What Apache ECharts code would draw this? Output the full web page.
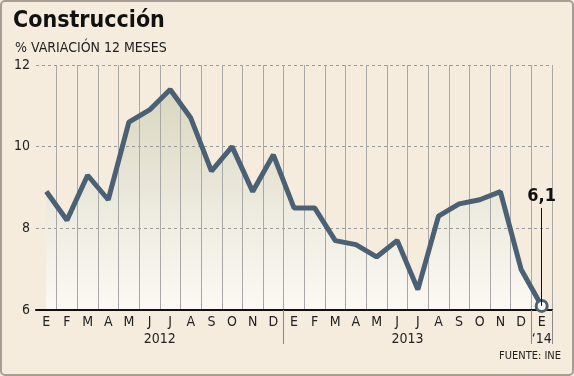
<!DOCTYPE html>
<html><head><meta charset="utf-8">
<script src="https://cdn.jsdelivr.net/npm/echarts@6/dist/echarts.min.js"></script>
<style>
html,body{margin:0;padding:0;background:#f6ecdd}
#c{width:574px;height:376px;position:absolute;left:0;top:0}
#b{position:absolute;left:0;top:0;width:574px;height:376px;box-sizing:border-box;border:2px solid #a89d94;border-radius:5px;pointer-events:none}
</style></head><body><div id="c"></div><div id="b"></div>
<script>
const months = ['E','F','M','A','M','J','J','A','S','O','N','D'];
const years = ['2012','2013','\u201814'];
const values2012 = [8.9,8.2,9.3,8.7,10.6,10.9,11.4,10.7,9.4,10.0,8.9,9.8];
const values2013 = [8.5,8.5,7.7,7.6,7.3,7.7,6.5,8.3,8.6,8.7,8.9,7.0];
const values2014 = [6.1];
const yMin = 6, yMax = 12, yStep = 2;
const calloutText = '6,1';
const calloutTop = 8.5;

const groups = [
  {year: years[0], months: months, values: values2012},
  {year: years[1], months: months, values: values2013},
  {year: years[2], months: months.slice(0,1), values: values2014}
];
const categories = [], values = [], yearPos = {};
groups.forEach(g => {
  const start = categories.length;
  g.months.forEach((m, i) => { categories.push(m + '|' + g.year); values.push(g.values[i]); });
  yearPos[String(start + (g.months.length - 1) / 2)] = g.year;
});
const lastIdx = values.length - 1;
const groupStarts = [];
{ let s = 0; groups.forEach((g, k) => { if (k > 0) groupStarts.push(s); s += g.months.length; }); }

const F = "'DejaVu Sans Condensed','DejaVu Sans',sans-serif";
const lineColor = '#4a6074';

const chart = echarts.init(document.getElementById('c'), null, {renderer: 'canvas'});
chart.setOption({
  backgroundColor: '#f6ecdd',
  animation: false,
  title: [
    {text: 'Construcción', left: 8, top: 5, textStyle: {fontFamily: F, fontWeight: 'bold', fontSize: 23, color: '#111'}},
    {text: '% VARIACIÓN 12 MESES', left: 10, top: 36, textStyle: {fontFamily: F, fontWeight: 'normal', fontSize: 14, color: '#222'}},
    {text: 'FUENTE: INE', right: 8, top: 346, textStyle: {fontFamily: F, fontWeight: 'normal', fontSize: 11, color: '#222'}}
  ],
  grid: {left: 36, right: 22, top: 65, bottom: 66},
  xAxis: [{
    type: 'category', data: categories, boundaryGap: true, z: 2,
    axisLine: {show: true, lineStyle: {color: '#111', width: 2}},
    axisTick: {show: true, length: 34, interval: (i) => groupStarts.includes(i), lineStyle: {color: '#888', width: 1}},
    axisLabel: {interval: 0, margin: 5, fontFamily: F, fontSize: 14, color: '#222', formatter: v => v.split('|')[0]},
    splitLine: {show: true, interval: (i) => i !== 0, lineStyle: {color: '#a8a8a8', width: 1}}
  }, {
    type: 'value', position: 'bottom', offset: 17, min: -0.5, max: values.length - 0.5, interval: 0.5,
    axisLine: {show: false}, axisTick: {show: false}, splitLine: {show: false},
    axisLabel: {margin: 5, fontFamily: F, fontSize: 14, color: '#222', showMinLabel: true, showMaxLabel: true,
      formatter: v => yearPos[String(v)] || ''}
  }],
  yAxis: {
    type: 'value', min: yMin, max: yMax, interval: yStep, z: 2,
    axisLine: {show: false}, axisTick: {show: false},
    axisLabel: {margin: 6, fontFamily: F, fontSize: 14, color: '#222'},
    splitLine: {show: true, lineStyle: {color: '#9a9a9a', type: [3, 3], width: 1}}
  },
  series: [{
    type: 'line', data: values, xAxisIndex: 0, z: 1, symbol: 'none', silent: true,
    lineStyle: {width: 0, opacity: 0},
    areaStyle: {origin: 'start', color: new echarts.graphic.LinearGradient(0, 0, 0, 1, [
      {offset: 0, color: '#cdcdb2'}, {offset: 0.5, color: '#e7e7dc'}, {offset: 1, color: '#ffffff'}])}
  }, {
    type: 'line', xAxisIndex: 0, z: 3, symbol: 'none', showSymbol: true,
    data: values.map((v, i) => i === lastIdx ? {value: v, symbol: 'circle', symbolSize: 11,
      itemStyle: {color: '#ffffff', borderColor: lineColor, borderWidth: 3}} : v),
    lineStyle: {color: lineColor, width: 5},
    itemStyle: {color: lineColor},
    markLine: {
      silent: true, symbol: ['none', 'none'], animation: false,
      lineStyle: {color: '#111', width: 1, type: 'solid'},
      label: {show: true, position: 'end', distance: 3, formatter: calloutText, fontFamily: F, fontWeight: 'bold', fontSize: 18, color: '#111'},
      data: [[{coord: [lastIdx, values[lastIdx]]}, {coord: [lastIdx, calloutTop]}]]
    }
  }]
});
</script></body></html>
